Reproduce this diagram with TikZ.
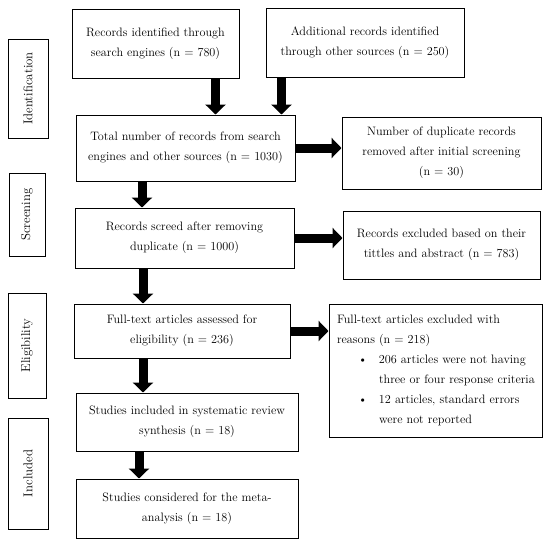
\documentclass[tikz,border=0pt]{standalone}
\usetikzlibrary{arrows.meta}
\begin{document}
\begin{tikzpicture}[x=1pt,y=-1pt,
  box/.style={draw, line width=1pt, align=center, inner sep=0pt,
    font=\fontsize{12.2}{20}\selectfont},
  sidebox/.style={draw, line width=1pt, inner sep=0pt, rotate=90,
    font=\fontsize{12.8}{14}\selectfont},
  bigarrow/.style={line width=9pt, -{Triangle[length=10pt,width=20pt]}}]
\useasboundingbox[fill=white] (0,0) rectangle (550,550);

% side labels
\node[sidebox, minimum width=99pt, minimum height=40pt] (ident) at (28,88.5) {Identification};
\node[sidebox, minimum width=83pt, minimum height=36pt] (screen) at (27,214.5) {Screening};
\node[sidebox, minimum width=105pt, minimum height=38pt] (elig) at (27,345.5) {Eligibility};
\node[sidebox, minimum width=111pt, minimum height=40pt] (incl) at (28,473.5) {Included};

% main boxes
\node[box, minimum width=167pt, minimum height=69pt] (A) at (155.5,43.5)
  {Records identified through\\search engines (n = 780)};
\node[box, minimum width=198pt, minimum height=69pt] (B) at (365,42.5)
  {Additional records identified\\through other sources (n = 250)};
\node[box, minimum width=219pt, minimum height=66pt] (C) at (185.5,148)
  {Total number of records from search\\engines and other sources (n = 1030)};
\node[box, minimum width=199pt, minimum height=72pt] (D) at (441.5,153)
  {Number of duplicate records\\removed after initial screening\\(n = 30)};
\node[box, minimum width=219pt, minimum height=60pt] (E) at (184.5,238)
  {Records screed after removing\\duplicate (n = 1000)};
\node[box, minimum width=197pt, minimum height=68pt] (F) at (441.5,245)
  {Records excluded based on their\\tittles and abstract (n = 783)};
\node[box, minimum width=216pt, minimum height=54pt] (G) at (182,331)
  {Full-text articles assessed for\\eligibility (n = 236)};
\node[box, minimum width=213pt, minimum height=133pt, align=left, text width=209pt, inner xsep=0pt] (H) at (435.5,370.5)
  {\hspace*{6pt}Full-text articles excluded with\\
   \hspace*{6pt}reasons (n = 218)\\
   \hspace*{6pt}\makebox[42pt][l]{\hspace{21pt}\textbullet}206 articles were not having\\
   \hspace*{48pt}three or four response criteria\\
   \hspace*{6pt}\makebox[42pt][l]{\hspace{21pt}\textbullet}12 articles, standard errors\\
   \hspace*{48pt}were not reported};
\node[box, minimum width=222pt, minimum height=58pt] (I) at (187,422)
  {Studies included in systematic review\\synthesis (n = 18)};
\node[box, minimum width=222pt, minimum height=59pt] (J) at (187,508.5)
  {Studies considered for the meta-\\analysis (n = 18)};

% arrow x positions
\coordinate (xa) at (215.5,0);
\coordinate (xb) at (281.5,0);
\coordinate (xc) at (142,0);
\coordinate (xe) at (143,0);
\coordinate (xg) at (143,0);
\coordinate (xi) at (139,0);

\draw[bigarrow] (A.south -| xa) -- (C.north -| xa);
\draw[bigarrow] (B.south -| xb) -- (C.north -| xb);
\draw[bigarrow] (C.east) -- (D.west |- C.east);
\draw[bigarrow] (C.south -| xc) -- (E.north -| xc);
\draw[bigarrow] (E.east) -- (F.west |- E.east);
\draw[bigarrow] (E.south -| xe) -- (G.north -| xe);
\draw[bigarrow] (G.east) -- (H.west |- G.east);
\draw[bigarrow] (G.south -| xg) -- (I.north -| xg);
\draw[bigarrow] (I.south -| xi) -- (J.north -| xi);
\end{tikzpicture}
\end{document}
